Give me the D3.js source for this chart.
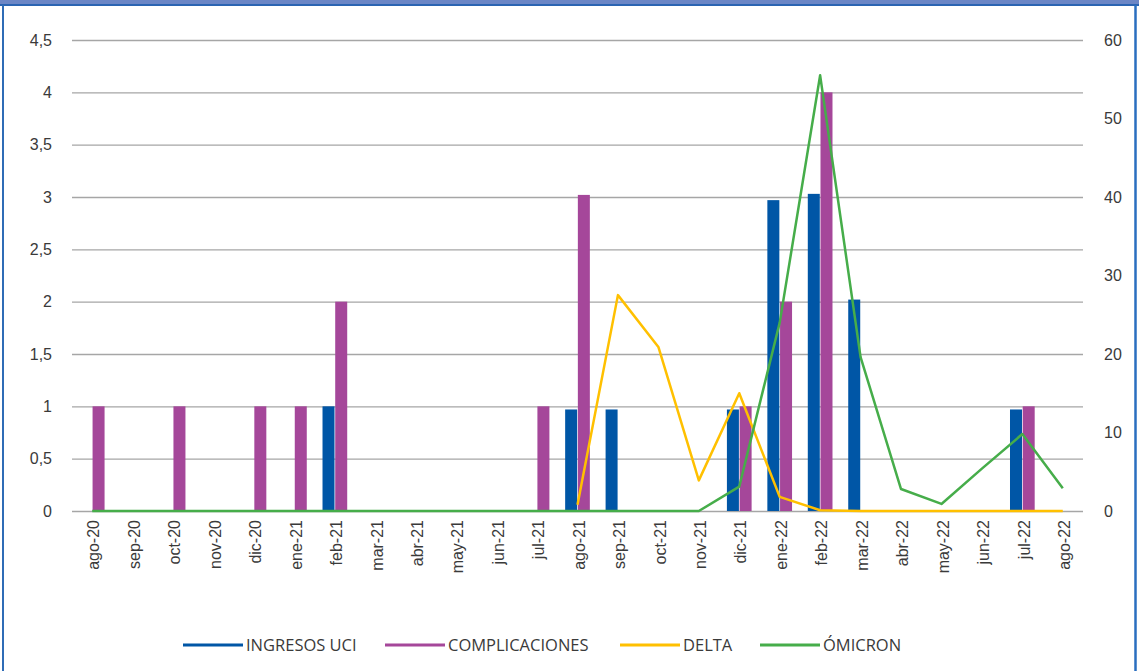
<!DOCTYPE html>
<html>
<head>
<meta charset="utf-8">
<script src="https://cdn.jsdelivr.net/npm/d3@7"></script>
<style>
  body { margin: 0; background: #fff; }
  svg { display: block; font-family: "Open Sans", "Noto Sans", sans-serif; }
</style>
</head>
<body>
<svg id="chart"></svg>
<script>
// Data
const months = ["ago-20", "sep-20", "oct-20", "nov-20", "dic-20", "ene-21", "feb-21", "mar-21",
  "abr-21", "may-21", "jun-21", "jul-21", "ago-21", "sep-21", "oct-21", "nov-21", "dic-21",
  "ene-22", "feb-22", "mar-22", "abr-22", "may-22", "jun-22", "jul-22", "ago-22"];

const ingresosUci = [0, 0, 0, 0, 0, 0, 1, 0, 0, 0, 0, 0, 0.97, 0.97, 0, 0, 0.97,
  2.97, 3.03, 2.02, 0, 0, 0, 0.97, 0];
const complicaciones = [1, 0, 1, 0, 1, 1, 2, 0, 0, 0, 0, 1, 3.02, 0, 0, 0, 1,
  2, 4, 0, 0, 0, 0, 1, 0];
const delta = [null, null, null, null, null, null, null, null, null, null, null, null, 0.8, 27.5, 20.9, 3.9, 15,
  1.8, 0.1, 0, 0, 0, 0, 0, 0];
const omicron = [0, 0, 0, 0, 0, 0, 0, 0, 0, 0, 0, 0, 0, 0, 0, 0, 3.1,
  24, 55.5, 19.6, 2.8, 0.9, 5.4, 9.8, 2.9];

const leftTicks = [0, 0.5, 1, 1.5, 2, 2.5, 3, 3.5, 4, 4.5];
const rightTicks = [0, 10, 20, 30, 40, 50, 60];

const legendItems = [
  { name: "INGRESOS UCI", color: "#0056a6" },
  { name: "COMPLICACIONES", color: "#a5479a" },
  { name: "DELTA", color: "#ffc000" },
  { name: "ÓMICRON", color: "#46ad4a" }
];

// Dimensions
const W = 1139, H = 671;
const plot = { left: 72, right: 1083, top: 40, bottom: 511 };
const textColor = "#3a3a3a";
const fmt = d => String(d).replace(".", ",");

const svg = d3.select("#chart").attr("width", W).attr("height", H);

// Frame
svg.append("rect").attr("x", 0).attr("y", 0).attr("width", W).attr("height", 5).attr("fill", "#6b86c6");
svg.append("line").attr("x1", 0).attr("x2", W).attr("y1", 5).attr("y2", 5)
  .attr("stroke", "#2b64b2").attr("stroke-width", 2);
svg.append("line").attr("x1", 3).attr("x2", 3).attr("y1", 5).attr("y2", H)
  .attr("stroke", "#2f6cb6").attr("stroke-width", 2);
svg.append("line").attr("x1", 1135.5).attr("x2", 1135.5).attr("y1", 5).attr("y2", H)
  .attr("stroke", "#2a6ebf").attr("stroke-width", 2.5);

// Scales
const x = d3.scaleBand().domain(months).range([plot.left, plot.right]);
const xSub = d3.scaleBand().domain(["uci", "comp"]).range([0, x.bandwidth()])
  .paddingInner(0.055).paddingOuter(0.62);
const yLeft = d3.scaleLinear().domain([0, 4.5]).range([plot.bottom, plot.top]);
const yRight = d3.scaleLinear().domain([0, 60]).range([plot.bottom, plot.top]);

// Gridlines + left axis
svg.append("g")
  .attr("transform", `translate(${plot.left},0)`)
  .call(d3.axisLeft(yLeft).tickValues(leftTicks).tickSize(-(plot.right - plot.left)).tickFormat(fmt).tickPadding(20))
  .call(g => g.select(".domain").remove())
  .call(g => g.selectAll(".tick line").attr("stroke", "#a6a6a6").attr("stroke-width", 1.4))
  .call(g => g.selectAll(".tick text").attr("fill", textColor).attr("font-size", 16));

// Right axis
svg.append("g")
  .attr("transform", `translate(${plot.right},0)`)
  .call(d3.axisRight(yRight).tickValues(rightTicks).tickSize(0).tickPadding(21))
  .call(g => g.select(".domain").remove())
  .call(g => g.selectAll(".tick text").attr("fill", textColor).attr("font-size", 16));

// X axis labels
svg.append("g")
  .attr("transform", `translate(0,${plot.bottom})`)
  .call(d3.axisBottom(x).tickSize(0).tickPadding(0))
  .call(g => g.select(".domain").remove())
  .call(g => g.selectAll(".tick text")
    .attr("fill", textColor).attr("font-size", 16)
    .attr("transform", "rotate(-90)")
    .attr("text-anchor", "end")
    .attr("x", -9).attr("y", 0).attr("dy", "0.45em"));

// Bars
const barData = months.map((m, i) => ({ month: m, uci: ingresosUci[i], comp: complicaciones[i] }));
const groups = svg.append("g").selectAll("g")
  .data(barData)
  .join("g")
  .attr("transform", d => `translate(${x(d.month)},0)`);

groups.selectAll("rect")
  .data(d => [
    { key: "uci", value: d.uci, color: legendItems[0].color },
    { key: "comp", value: d.comp, color: legendItems[1].color }
  ].filter(b => b.value > 0))
  .join("rect")
  .attr("x", b => xSub(b.key))
  .attr("width", xSub.bandwidth())
  .attr("y", b => yLeft(b.value))
  .attr("height", b => yLeft(0) - yLeft(b.value))
  .attr("fill", b => b.color);

// Lines
const line = d3.line()
  .defined(d => d.v != null)
  .x(d => x(d.m) + x.bandwidth() / 2)
  .y(d => yRight(d.v));

svg.append("path")
  .datum(months.map((m, i) => ({ m, v: delta[i] })))
  .attr("fill", "none")
  .attr("stroke", legendItems[2].color)
  .attr("stroke-width", 2.5)
  .attr("stroke-linejoin", "round")
  .attr("d", line);

svg.append("path")
  .datum(months.map((m, i) => ({ m, v: omicron[i] })))
  .attr("fill", "none")
  .attr("stroke", legendItems[3].color)
  .attr("stroke-width", 2.5)
  .attr("stroke-linejoin", "round")
  .attr("d", line);

// Legend
const legendX = [183, 385, 620, 760];
const legend = svg.append("g").selectAll("g")
  .data(legendItems)
  .join("g")
  .attr("transform", (d, i) => `translate(${legendX[i]},645)`);

legend.append("line")
  .attr("x1", 0).attr("x2", 60)
  .attr("stroke", d => d.color)
  .attr("stroke-width", 3);

legend.append("text")
  .attr("x", 63)
  .attr("dy", "0.35em")
  .attr("fill", textColor)
  .attr("font-size", 16.5)
  .text(d => d.name);
</script>
</body>
</html>
